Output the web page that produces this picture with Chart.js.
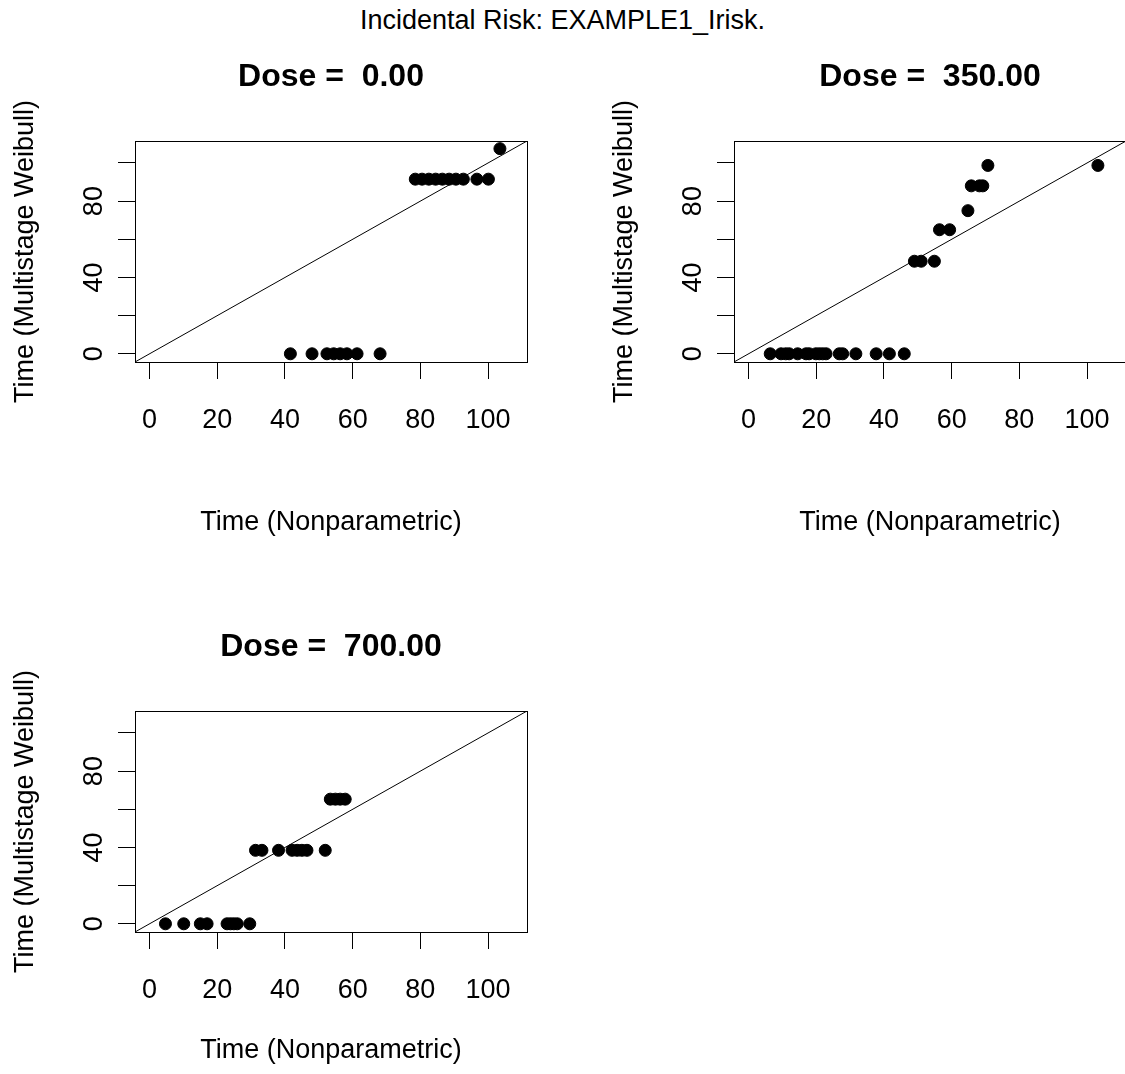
<!DOCTYPE html>
<html>
<head>
<meta charset="utf-8">
<script src="https://cdn.jsdelivr.net/npm/chart.js@4.4.0/dist/chart.umd.min.js"></script>
<style>
  html, body { margin: 0; padding: 0; background: #fff; overflow: hidden; }
  #page { position: relative; width: 1125px; height: 1074px; overflow: hidden; background: #fff; }
  #main-title { position: absolute; left: 0; top: 4px; width: 1125px; text-align: center;
    font: 27px "Liberation Sans", Arial, sans-serif; line-height: 32px; color: #000; }
  canvas { position: absolute; }
</style>
</head>
<body>
<div id="page">
  <div id="main-title">Incidental Risk: EXAMPLE1_Irisk.</div>
  <canvas id="panel0" width="560" height="499" style="left:0px;top:40px"></canvas>
  <canvas id="panel1" width="560" height="499" style="left:599px;top:40px"></canvas>
  <canvas id="panel2" width="560" height="457" style="left:0px;top:610px"></canvas>
</div>
<script>
var FONT = '"Liberation Sans", Arial, sans-serif';

// axis limits shared by all three panels
var axisMin = -4.3;
var axisMax = 111.5;
var tickValues = [0, 20, 40, 60, 80, 100];

var doses = ['0.00', '350.00', '700.00'];

// Dose = 0.00
var dose0X = [41.6, 48.0, 52.4, 54.4, 56.3, 58.3, 61.3, 68.1,
              78.5, 80.5, 82.5, 84.5, 86.5, 88.5, 90.5, 92.7, 96.7, 100.1,
              103.5];
var dose0Y = [0, 0, 0, 0, 0, 0, 0, 0,
              91.5, 91.5, 91.5, 91.5, 91.5, 91.5, 91.5, 91.5, 91.5, 91.5,
              107.5];

// Dose = 350.00
var dose350X = [6.4, 9.6, 11.0, 12.0, 14.5, 17.0, 17.9, 19.9, 20.9, 21.9, 22.9,
                26.8, 27.8, 31.7, 37.7, 41.6, 46.0,
                49.0, 51.0, 54.9,
                56.4, 59.4,
                64.8,
                65.8, 68.2, 69.2,
                70.7, 103.2];
var dose350Y = [0, 0, 0, 0, 0, 0, 0, 0, 0, 0, 0,
                0, 0, 0, 0, 0, 0,
                48.5, 48.5, 48.5,
                65, 65,
                75,
                88, 88, 88,
                98.7, 98.7];

// Dose = 700.00
var dose700X = [4.7, 10.1, 15.0, 17.0, 22.9, 23.9, 24.9, 25.9, 29.6,
                31.3, 33.2, 38.1, 42.1, 43.6, 45.0, 46.5, 51.9,
                53.4, 54.9, 56.3, 57.8];
var dose700Y = [0, 0, 0, 0, 0, 0, 0, 0, 0,
                38.5, 38.5, 38.5, 38.5, 38.5, 38.5, 38.5, 38.5,
                65.3, 65.3, 65.3, 65.3];

function makePanel(id, dose, xs, ys, xAxisHeight) {
  var pts = xs.map(function (x, i) { return { x: x, y: ys[i] }; });
  var textFont = { family: FONT, size: 27 };

  new Chart(document.getElementById(id), {
    type: 'scatter',
    data: {
      datasets: [{
        type: 'line',
        data: [{ x: axisMin, y: axisMin }, { x: axisMax, y: axisMax }],
        borderColor: '#000',
        borderWidth: 1,
        pointRadius: 0,
        showLine: true,
        fill: false
      }, {
        data: pts,
        backgroundColor: '#000',
        borderColor: '#000',
        pointRadius: 6,
        pointBorderWidth: 1
      }]
    },
    options: {
      responsive: false,
      animation: false,
      layout: { padding: { left: 0, right: 33, top: 0, bottom: 0 } },
      plugins: {
        legend: { display: false },
        tooltip: { enabled: false },
        title: {
          display: true,
          text: 'Dose =  ' + dose,
          fullSize: false,
          color: '#000',
          font: { family: FONT, size: 32, weight: 'bold' },
          padding: { top: 18, bottom: 44.6 }
        }
      },
      scales: {
        x: {
          type: 'linear', position: 'bottom', min: axisMin, max: axisMax,
          afterBuildTicks: function (s) { s.ticks = tickValues.map(function (v) { return { value: v }; }); },
          afterFit: function (s) { s.height = xAxisHeight; },
          grid: { drawOnChartArea: false, drawTicks: true, tickLength: 17, color: '#000' },
          border: { display: true, color: '#000', width: 1 },
          ticks: { autoSkip: false, maxRotation: 0, color: '#000', font: textFont, padding: 25,
                   callback: function (v) { return String(v); } },
          title: { display: true, text: 'Time (Nonparametric)', color: '#000', font: textFont,
                   padding: { top: 0, bottom: 0 } }
        },
        y: {
          type: 'linear', position: 'left', min: axisMin, max: axisMax,
          afterBuildTicks: function (s) { s.ticks = tickValues.map(function (v) { return { value: v }; }); },
          afterFit: function (s) { s.width = 135; },
          grid: { drawOnChartArea: false, drawTicks: true, tickLength: 17, color: '#000' },
          border: { display: true, color: '#000', width: 1 },
          ticks: { autoSkip: false, minRotation: 90, maxRotation: 90, crossAlign: 'center',
                   color: '#000', font: textFont, padding: 8,
                   callback: function (v) { return v % 40 === 0 ? String(v) : ''; } },
          title: { display: true, text: 'Time (Multistage Weibull)', color: '#000', font: textFont,
                   padding: { top: 9, bottom: 0 } }
        },
        xTop: {
          type: 'linear', position: 'top', min: axisMin, max: axisMax,
          afterFit: function (s) { s.height = 0; },
          grid: { display: false }, ticks: { display: false },
          border: { display: true, color: '#000', width: 1 }
        },
        yRight: {
          type: 'linear', position: 'right', min: axisMin, max: axisMax,
          afterFit: function (s) { s.width = 0; },
          grid: { display: false }, ticks: { display: false },
          border: { display: true, color: '#000', width: 1 }
        }
      }
    }
  });
}

makePanel('panel0', doses[0], dose0X, dose0Y, 177);
makePanel('panel1', doses[1], dose350X, dose350Y, 177);
makePanel('panel2', doses[2], dose700X, dose700Y, 135);
</script>
</body>
</html>
